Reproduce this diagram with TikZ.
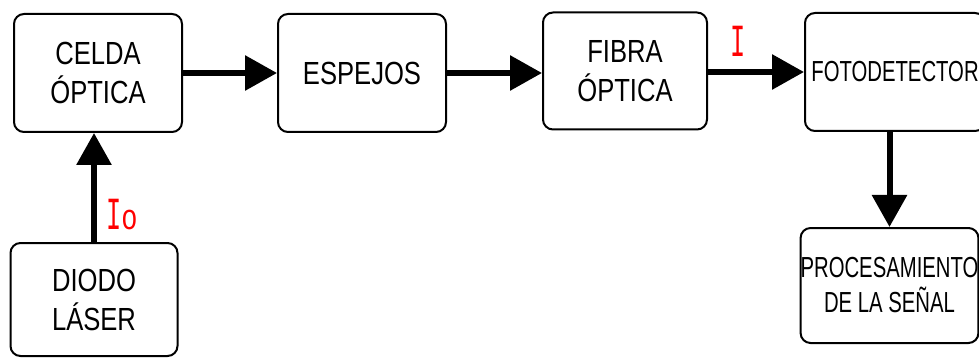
\documentclass[tikz,border=0pt]{standalone}
\usepackage{fontspec}
\newfontfamily\narrowfont[FakeStretch=0.8]{Liberation Sans}
\newfontfamily\narrowerfont[FakeStretch=0.7]{Liberation Sans}
\newfontfamily\labfont[FakeStretch=0.55]{Liberation Mono}
\newfontfamily\labofont[FakeStretch=0.75]{Liberation Mono}
\usetikzlibrary{arrows.meta}
\begin{document}
\begin{tikzpicture}[x=1pt,y=-1pt,
  box/.style={draw=black, line width=2pt, rounded corners=10pt, align=center, inner sep=0pt,
    font=\narrowfont\fontsize{32}{39}\selectfont},
  sbox/.style={box, font=\narrowerfont\fontsize{29}{35}\selectfont},
  arr/.style={line width=6pt, -{Triangle[length=32pt,width=34pt]}},
  lab/.style={text=red, font=\labfont\fontsize{46}{46}\selectfont, inner sep=0pt}]
\useasboundingbox (0,0) rectangle (979,358);
\node[box, minimum width=168pt, minimum height=118pt] (celda) at (98,73) {CELDA\\ÓPTICA};
\node[box, minimum width=168pt, minimum height=118pt] (espejos) at (362,73) {ESPEJOS};
\node[box, minimum width=164pt, minimum height=117pt] (fibra) at (625,71) {FIBRA\\ÓPTICA};
\node[sbox, minimum width=180pt, minimum height=118pt] (foto) at (895,72) {FOTODETECTOR};
\node[sbox, minimum width=175pt, minimum height=115pt] (proc) at (889.5,285.5) {PROCESAMIENTO\\DE LA SEÑAL};
\node[box, minimum width=167pt, minimum height=113pt] (diodo) at (94,299.5) {DIODO\\LÁSER};
\draw[arr] (celda.east) -- (espejos.west);
\draw[arr] (espejos.west -| espejos.east) -- (fibra.west |- espejos.west);
\draw[arr] (fibra.east |- foto.west) -- (foto.west);
\draw[arr] (proc.north |- foto.south) -- (proc.north);
\draw[arr] (diodo.north) -- (diodo.north |- celda.south);
\node[lab] (i) at (738,41) {I};
\node[lab, anchor=base west] (io) at (106,229) {I{\labofont\fontsize{36}{36}\selectfont o}};
\end{tikzpicture}
\end{document}
